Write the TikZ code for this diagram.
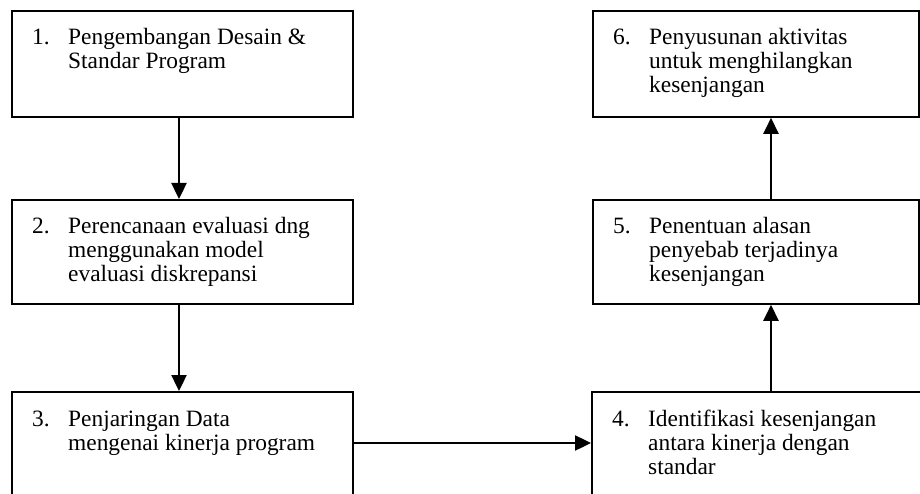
\documentclass[tikz,border=0pt]{standalone}
\usepackage{fontspec}
\setmainfont{Liberation Serif}
\usetikzlibrary{arrows.meta,calc}
\begin{document}
\begin{tikzpicture}[x=1pt,y=1pt,
  stepbox/.style={draw=black,line width=1.8pt,rectangle,inner sep=0pt},
  steptext/.style={anchor=base west,inner sep=0pt,align=left,
    font=\fontsize{23.4}{24}\selectfont},
  flow/.style={line width=2.4pt,-{Triangle[length=16pt,width=15pt]}}]
\clip (0,0) rectangle (920,493);
\fill[white] (0,0) rectangle (920,493);
% boxes (the bottom row runs past the lower edge)
\node[stepbox,minimum width=341pt,minimum height=106pt,anchor=north west] (b1) at (11,483) {};
\node[stepbox,minimum width=341pt,minimum height=104pt,anchor=north west] (b2) at (11,294) {};
\node[stepbox,minimum width=341pt,minimum height=130pt,anchor=north west] (b3) at (11,102) {};
\node[stepbox,minimum width=326pt,minimum height=106pt,anchor=north west] (b6) at (592,483) {};
\node[stepbox,minimum width=326pt,minimum height=104pt,anchor=north west] (b5) at (592,294) {};
\node[stepbox,minimum width=340pt,minimum height=130pt,anchor=north west] (b4) at (591,102) {};
% texts
\newcommand{\steplabel}[2]{\makebox[36pt][l]{#1}\parbox[t]{300pt}{#2}}
\node[steptext] (t1) at ($(b1.north west)+(21,-35)$) {\steplabel{1.}{Pengembangan Desain \&\\Standar Program}};
\node[steptext] (t2) at ($(b2.north west)+(21,-35)$) {\steplabel{2.}{Perencanaan evaluasi dng\\menggunakan model\\evaluasi diskrepansi}};
\node[steptext] (t3) at ($(b3.north west)+(21,-35)$) {\steplabel{3.}{Penjaringan Data\\mengenai kinerja program}};
\node[steptext] (t4) at ($(b4.north west)+(21,-35)$) {\steplabel{4.}{Identifikasi kesenjangan\\antara kinerja dengan\\standar}};
\node[steptext] (t5) at ($(b5.north west)+(21,-35)$) {\steplabel{5.}{Penentuan alasan\\penyebab terjadinya\\kesenjangan}};
\node[steptext] (t6) at ($(b6.north west)+(21,-35)$) {\steplabel{6.}{Penyusunan aktivitas\\untuk menghilangkan\\kesenjangan}};
% connector guide lines
\coordinate (lc) at (179,0);
\coordinate (rc) at (771,0);
\coordinate (hy) at (0,50);
\draw[flow] (b1.south -| lc) -- (b2.north -| lc);
\draw[flow] (b2.south -| lc) -- (b3.north -| lc);
\draw[flow] (b3.east |- hy) -- (b4.west |- hy);
\draw[flow] (b4.north -| rc) -- (b5.south -| rc);
\draw[flow] (b5.north -| rc) -- (b6.south -| rc);
\end{tikzpicture}
\end{document}
